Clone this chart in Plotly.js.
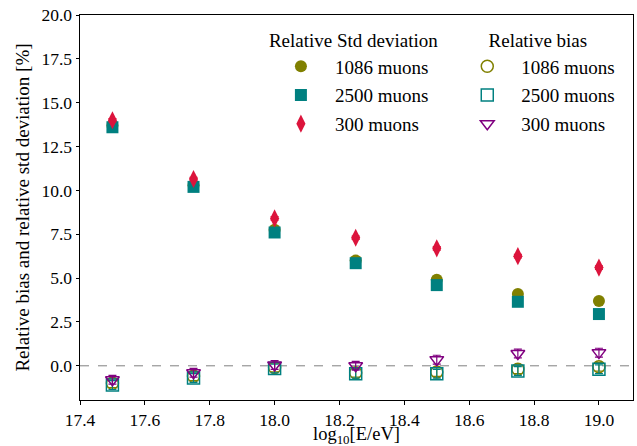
<!DOCTYPE html>
<html>
<head>
<meta charset="utf-8">
<script src="https://cdn.plot.ly/plotly-3.0.1.min.js"></script>
<style>html,body{margin:0;padding:0;background:#fff}#chart{width:637px;height:446px}</style>
</head>
<body>
<div id="chart"></div>
<script>
// Energy bins (log10 E/eV)
const energy = [17.5, 17.75, 18.0, 18.25, 18.5, 18.75, 19.0];

// Relative std deviation [%]
const std1086 = [13.7, 10.3, 7.75, 6.0, 4.9, 4.1, 3.7];
const std2500 = [13.6, 10.2, 7.6, 5.85, 4.6, 3.65, 2.95];
const std300  = [14.0, 10.65, 8.4, 7.3, 6.7, 6.25, 5.6];
const stdErr1086 = [0.1, 0.1, 0.1, 0.1, 0.1, 0.1, 0.1];
const stdErr2500 = [0.1, 0.1, 0.1, 0.1, 0.1, 0.1, 0.1];
const stdErr300  = [0.1, 0.1, 0.1, 0.1, 0.1, 0.1, 0.1];

// Relative bias [%]
const bias1086 = [-1.0, -0.6, -0.1, -0.4, -0.35, -0.2, -0.05];
const bias2500 = [-1.1, -0.7, -0.15, -0.45, -0.45, -0.3, -0.2];
const bias300  = [-0.8, -0.4, 0.05, 0.0, 0.35, 0.7, 0.75];
const biasErr1086 = [0.25, 0.25, 0.25, 0.25, 0.25, 0.25, 0.25];
const biasErr2500 = [0.25, 0.25, 0.25, 0.25, 0.25, 0.25, 0.25];
const biasErr300  = [0.25, 0.25, 0.25, 0.25, 0.25, 0.25, 0.25];

const zeroLevel = [0];

const names = ['1086 muons', '2500 muons', '300 muons'];
const xTitle = 'log<sub>10</sub>[E/eV]';
const yTitle = 'Relative bias and relative std deviation [%]';
const FONT = 'Liberation Serif, Times New Roman, serif';

function tr(y, err, name, symbol, color, size, leg, grp, filled) {
  return {
    type: 'scatter', mode: 'markers', x: energy, y: y, name: name,
    legend: leg, legendgroup: grp,
    marker: {symbol: symbol, size: size, color: color,
             line: {color: color, width: filled ? 0 : 1.5}},
    error_y: {type: 'data', array: err, visible: true, color: color,
              thickness: 1.2, width: 4}
  };
}

const data = [
  tr(std1086, stdErr1086, names[0], 'circle', '#808000', 12, 'legend', 'a1', true),
  tr(std2500, stdErr2500, names[1], 'square', '#008080', 12, 'legend', 'a2', true),
  tr(std300, stdErr300, names[2], 'diamond-tall', '#DC143C', 13, 'legend', 'a3', true),
  tr(bias1086, biasErr1086, names[0], 'circle-open', '#808000', 12, 'legend2', 'b1', false),
  tr(bias2500, biasErr2500, names[1], 'square-open', '#008080', 12, 'legend2', 'b2', false),
  tr(bias300, biasErr300, names[2], 'triangle-down-open', '#800080', 12, 'legend2', 'b3', false)
];

const axisCommon = {
  showgrid: false, zeroline: false, showline: true, mirror: true,
  linecolor: '#000', linewidth: 1, ticks: 'outside', ticklen: 3.5,
  tickcolor: '#000', tickfont: {family: FONT, size: 17.5, color: '#000'}
};

const legendCommon = {
  font: {family: FONT, size: 19, color: '#000'},
  bgcolor: 'rgba(0,0,0,0)', borderwidth: 0,
  itemwidth: 58, tracegroupgap: 1, yanchor: 'top', y: 0.98,
  itemclick: false
};

const pad = '\u00A0'.repeat(7);

const layout = {
  width: 637, height: 446,
  margin: {l: 80, r: 4, t: 15, b: 46},
  paper_bgcolor: '#fff', plot_bgcolor: '#fff',
  font: {family: FONT, color: '#000'},
  xaxis: Object.assign({}, axisCommon, {
    range: [17.4, 19.105], tick0: 17.4, dtick: 0.2, tickformat: '.1f', automargin: false
  }),
  yaxis: Object.assign({}, axisCommon, {
    range: [-1.95, 20], tick0: 0, dtick: 2.5, tickformat: '.1f', automargin: false,
    title: {text: yTitle, font: {family: FONT, size: 19, color: '#000'}, standoff: 6}
  }),
  annotations: [{
    text: xTitle, xref: 'paper', yref: 'paper', x: 0.5, y: 0,
    xanchor: 'center', yanchor: 'middle', yshift: -35, showarrow: false,
    font: {family: FONT, size: 18.5, color: '#000'}
  }],
  shapes: [{
    type: 'line', xref: 'paper', x0: 0, x1: 1, yref: 'y', y0: zeroLevel[0], y1: zeroLevel[0],
    line: {color: '#808080', width: 1, dash: 'dash'}, layer: 'below'
  }],
  legend: Object.assign({}, legendCommon, {
    x: 0.338, title: {text: 'Relative Std deviation', side: 'top', font: {family: FONT, size: 19, color: '#000'}}
  }),
  legend2: Object.assign({}, legendCommon, {
    x: 0.675, title: {text: pad + 'Relative bias', side: 'top', font: {family: FONT, size: 19, color: '#000'}}
  }),
  showlegend: true
};

Plotly.newPlot('chart', data, layout, {displayModeBar: false, staticPlot: true});
</script>
</body>
</html>
